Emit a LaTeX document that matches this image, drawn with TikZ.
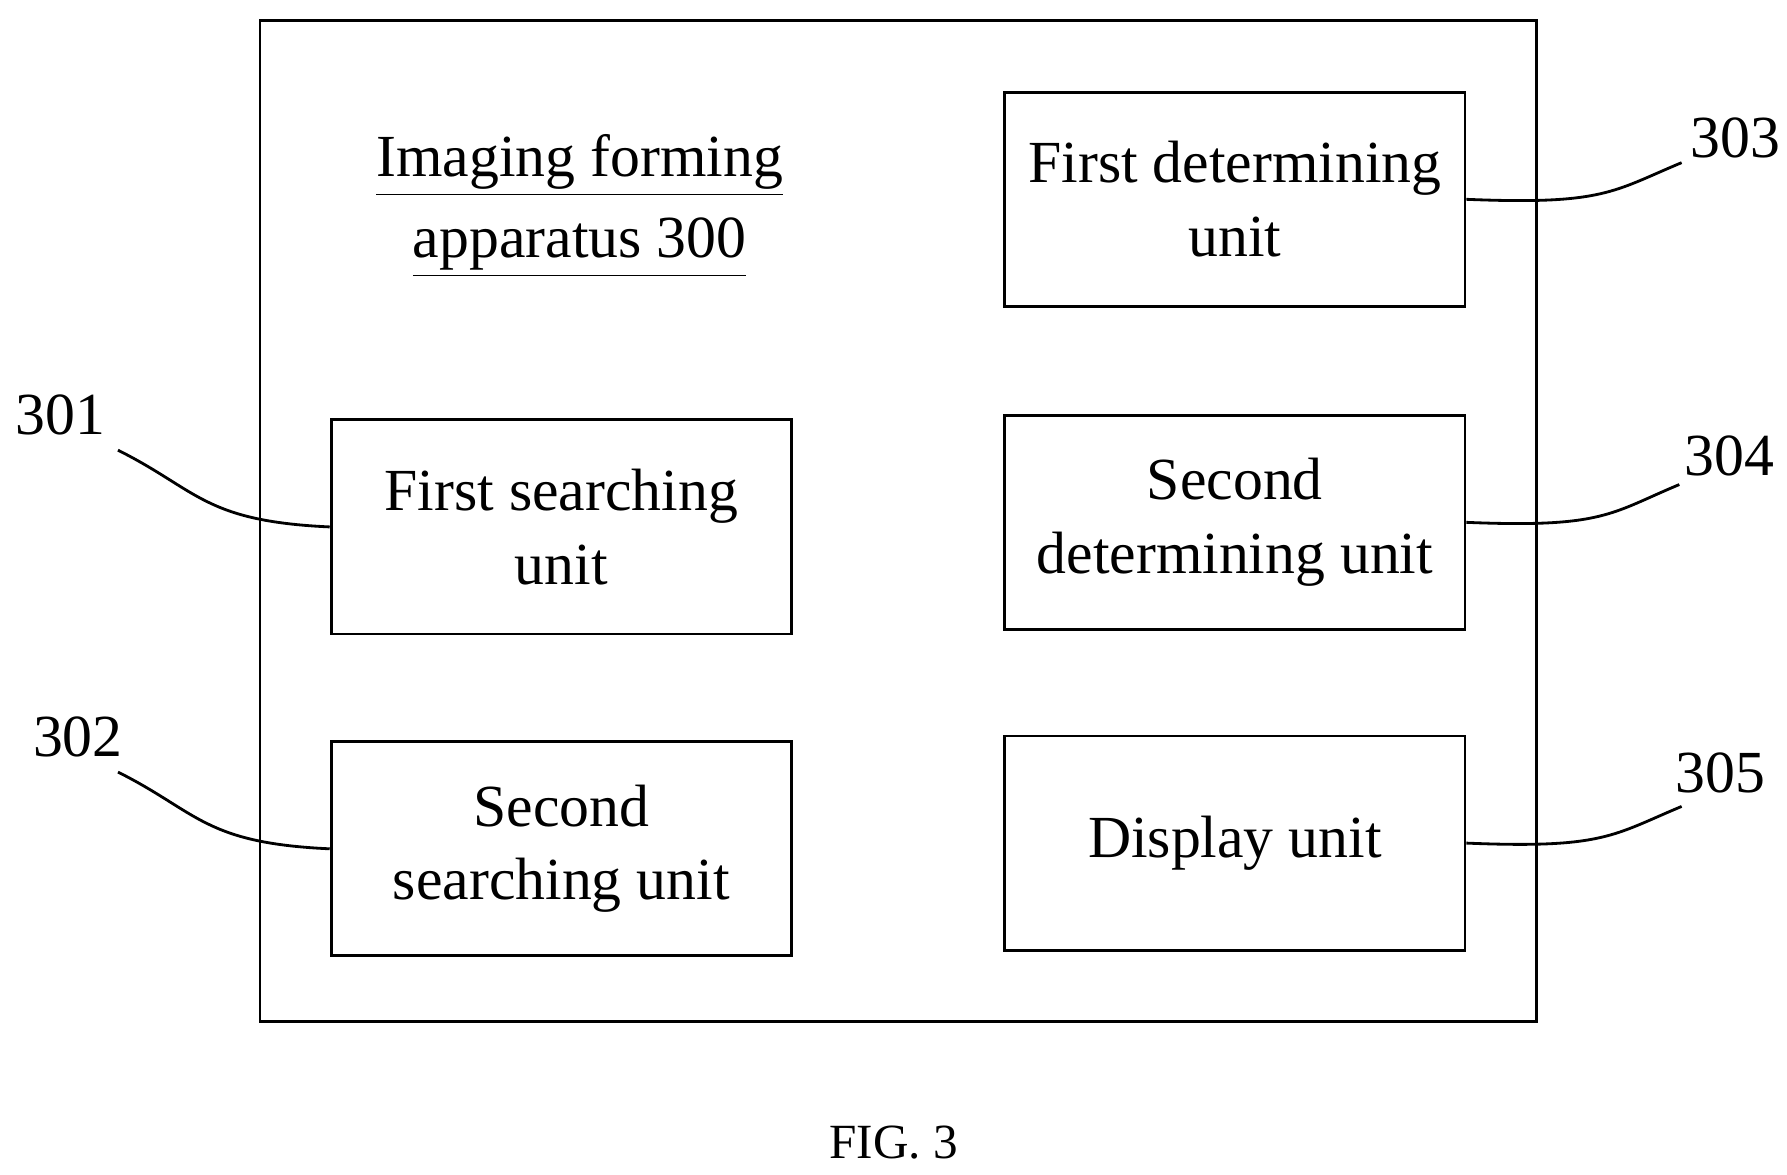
\documentclass[tikz,border=0pt]{standalone}
\usepackage{fontspec}
\setmainfont{Liberation Serif}
\usetikzlibrary{positioning}
\begin{document}
\begin{tikzpicture}[x=0.011455cm,y=-0.011455cm,
  unit/.style={rectangle,draw=black,thick,minimum width=4.605cm,minimum height=2.142cm,align=center,font=\fontsize{17}{21}\selectfont},
  num/.style={font=\fontsize{17}{21}\selectfont},
  lead/.style={thick}]
\useasboundingbox (0,0) rectangle (1560,1025);
\draw[thick] (227,18) rectangle (1341,892);
\node[align=center,font=\fontsize{17}{21}\selectfont] (title) at (506,180) {\underline{Imaging forming}\\[2pt]\underline{apparatus 300}};
\node[unit] (b303) at (1078,174) {First determining\\unit};
\node[unit] (b304) at (1078,456) {Second\\determining unit};
\node[unit] (b305) at (1078,736) {Display unit};
\node[unit] (b301) at (490,460) {First searching\\unit};
\node[unit] (b302) at (490,741) {Second\\searching unit};
\node[num] (n303) at (1515,120) {303};
\node[num] (n304) at (1510,398) {304};
\node[num] (n305) at (1502,675) {305};
\node[num] (n301) at (53,362) {301};
\node[num] (n302) at (68,643) {302};
\coordinate (e303) at (1468,142);
\coordinate (e304) at (1466,423);
\coordinate (e305) at (1468,704);
\coordinate (e301) at (103,393);
\coordinate (e302) at (103,674);
\foreach \b in {303,304,305}
  \draw[lead] (b\b.east) .. controls +(120,5) and +(-60,25) .. (e\b);
\foreach \b in {301,302}
  \draw[lead] (b\b.west) .. controls +(-110,-5) and +(70,35) .. (e\b);
\node[font=\fontsize{14}{17}\selectfont] (fig) at (780,997) {FIG. 3};
\end{tikzpicture}
\end{document}
